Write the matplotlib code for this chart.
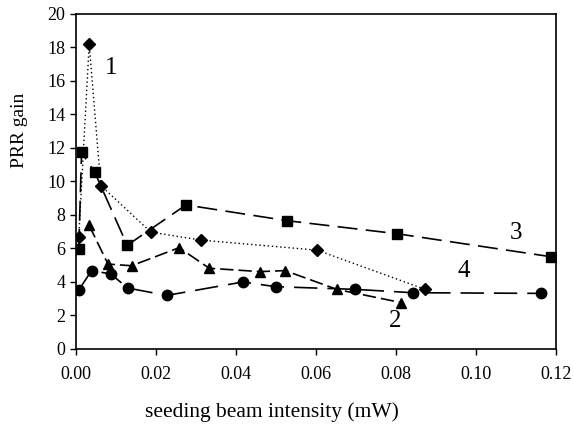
import matplotlib.pyplot as plt
import numpy as np

plt.rcParams['font.family'] = ['Liberation Serif', 'DejaVu Serif']

# curve 1 (diamonds, dotted)
x1 = [0.0007, 0.0033, 0.0062, 0.0187, 0.0313, 0.0603, 0.0873]
y1 = [6.7, 18.2, 9.76, 6.98, 6.5, 5.9, 3.56]
# curve 2 (triangles)
x2 = [0.0033, 0.0080, 0.0139, 0.0258, 0.0333, 0.0460, 0.0523, 0.0652, 0.0813]
y2 = [7.38, 5.07, 4.97, 6.05, 4.82, 4.62, 4.68, 3.56, 2.77]
# curve 3 (squares)
x3 = [0.0007, 0.0014, 0.0047, 0.0128, 0.0275, 0.0528, 0.0803, 0.1187]
y3 = [5.97, 11.74, 10.55, 6.19, 8.6, 7.66, 6.88, 5.51]
# curve 4 (circles)
x4 = [0.0007, 0.0039, 0.0087, 0.0129, 0.0227, 0.0417, 0.0499, 0.0698, 0.0842, 0.1162]
y4 = [3.52, 4.68, 4.48, 3.64, 3.2, 4.0, 3.72, 3.56, 3.36, 3.32]

fig = plt.figure(figsize=(5.73, 4.24), dpi=100)
ax = fig.add_axes([0.1326, 0.1769, 0.8377, 0.7901])

ax.plot(x1, y1, color='black', linestyle=(0, (1, 2)), linewidth=1,
        marker='D', markersize=6.5)
ax.plot(x2, y2, color='black', linestyle=(0, (8, 3)), linewidth=1.2,
        marker='^', markersize=7.5)
ax.plot(x3, y3, color='black', linestyle=(0, (12, 5)), linewidth=1.2,
        marker='s', markersize=6.5)
ax.plot(x4, y4, color='black', linestyle=(0, (14, 6)), linewidth=1.2,
        marker='o', markersize=7.5)

ax.text(0.00875, 16.8, '1', fontsize=18, ha='center', va='center')
ax.text(0.0798, 1.7, '2', fontsize=18, ha='center', va='center')
ax.text(0.110, 6.9, '3', fontsize=18, ha='center', va='center')
ax.text(0.097, 4.65, '4', fontsize=18, ha='center', va='center')

ax.set_xlim(0, 0.12)
ax.set_ylim(0, 20)
ax.set_xticks(np.arange(0, 0.121, 0.02))
ax.set_xticklabels(['0.00', '0.02', '0.04', '0.06', '0.08', '0.10', '0.12'])
ax.set_yticks(np.arange(0, 21, 2))
ax.tick_params(axis='both', labelsize=13, direction='out', length=4, width=1)
ax.tick_params(axis='x', pad=8)
for s in ax.spines.values():
    s.set_linewidth(1.2)

ax.set_xlabel('seeding beam intensity (mW)', fontsize=15.5)
ax.xaxis.set_label_coords(0.408, -0.16)
ax.set_ylabel('PRR gain', fontsize=14)
ax.yaxis.set_label_coords(-0.1, 0.654)

fig.savefig('out.png', dpi=100)
